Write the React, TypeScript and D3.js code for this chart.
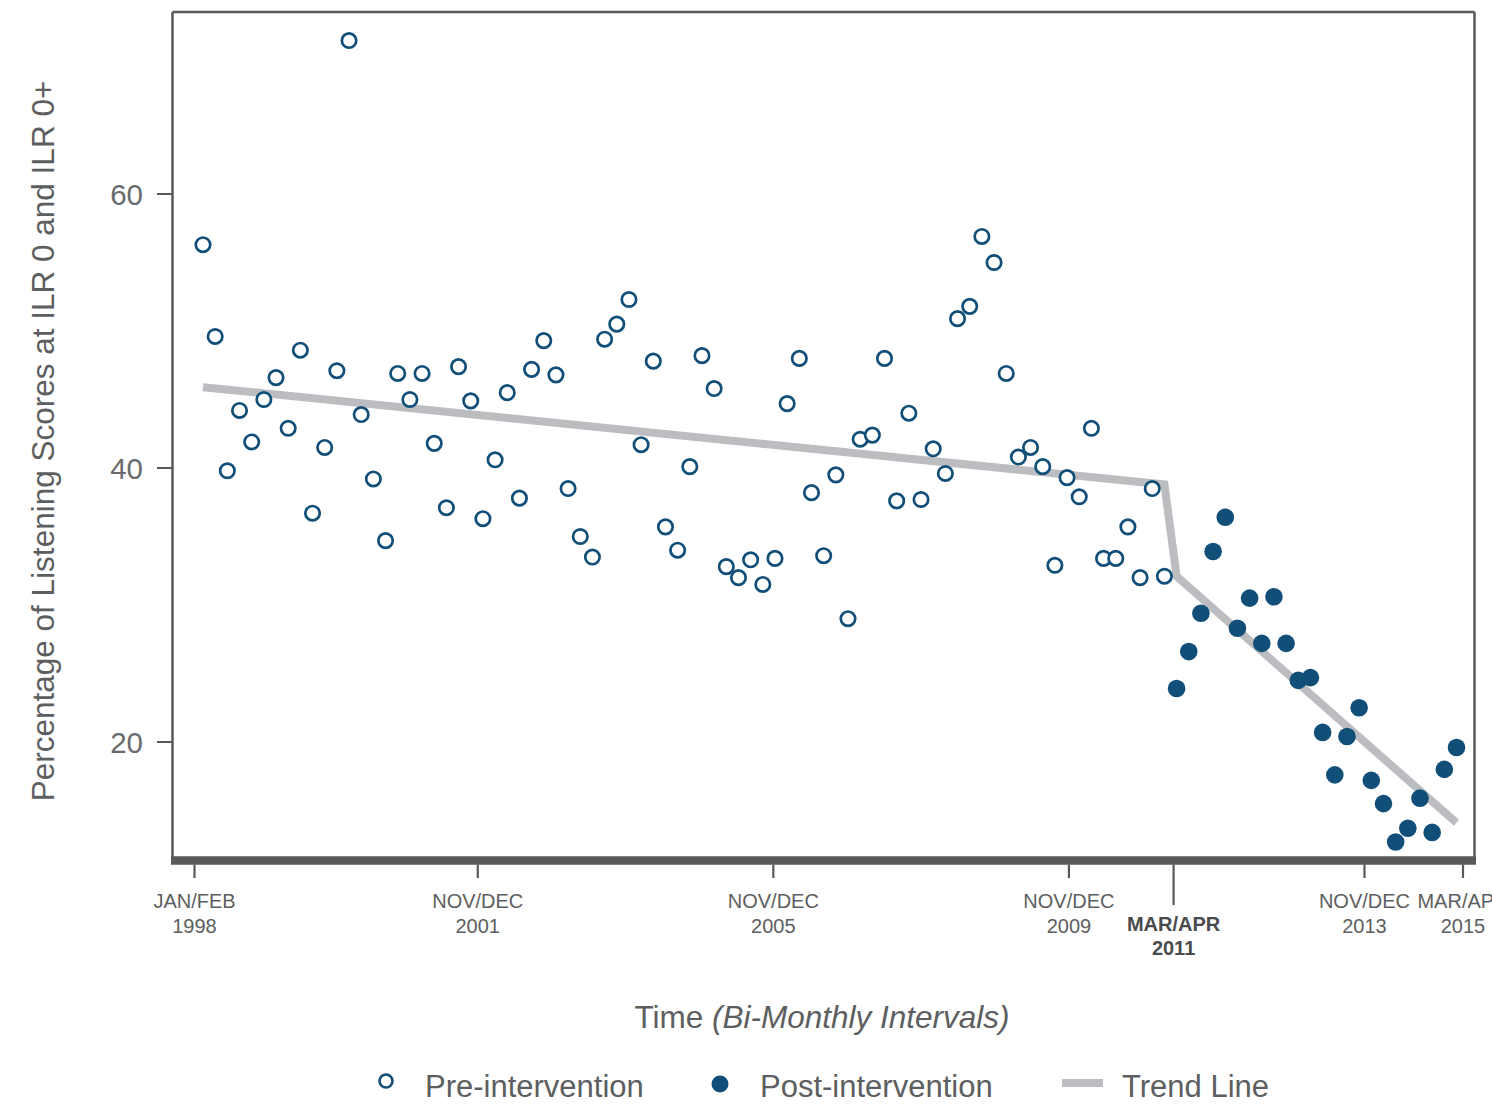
import React from "react";
import * as d3 from "d3";

// Bi-monthly observations, Jan/Feb 1998 onward (percent at ILR 0 / 0+)
const preIntervention: number[] = [
  56.3, 49.6, 39.8, 44.2, 41.9, 45.0, 46.6, 42.9, 48.6, 36.7,
  41.5, 47.1, 71.2, 43.9, 39.2, 34.7, 46.9, 45.0, 46.9, 41.8,
  37.1, 47.4, 44.9, 36.3, 40.6, 45.5, 37.8, 47.2, 49.3, 46.8,
  38.5, 35.0, 33.5, 49.4, 50.5, 52.3, 41.7, 47.8, 35.7, 34.0,
  40.1, 48.2, 45.8, 32.8, 32.0, 33.3, 31.5, 33.4, 44.7, 48.0,
  38.2, 33.6, 39.5, 29.0, 42.1, 42.4, 48.0, 37.6, 44.0, 37.7,
  41.4, 39.6, 50.9, 51.8, 56.9, 55.0, 46.9, 40.8, 41.5, 40.1,
  32.9, 39.3, 37.9, 42.9, 33.4, 33.4, 35.7, 32.0, 38.5, 32.1,
];

const postIntervention: number[] = [
  23.9, 26.6, 29.4, 33.9, 36.4, 28.3, 30.5, 27.2, 30.6, 27.2,
  24.5, 24.7, 20.7, 17.6, 20.4, 22.5, 17.2, 15.5, 12.7, 13.7,
  15.9, 13.4, 18.0, 19.6,
];

// Segmented regression trend: [observation index, value]
const trendLine: [number, number][] = [
  [0, 45.9],
  [79, 38.8],
  [80, 32.1],
  [103, 14.1],
];

// Calendar axis: bi-month index from Jan/Feb 1998
const timeTicks = [
  { idx: 0, line1: "JAN/FEB", line2: "1998", key: false },
  { idx: 23, line1: "NOV/DEC", line2: "2001", key: false },
  { idx: 47, line1: "NOV/DEC", line2: "2005", key: false },
  { idx: 71, line1: "NOV/DEC", line2: "2009", key: false },
  { idx: 79.5, line1: "MAR/APR", line2: "2011", key: true },
  { idx: 95, line1: "NOV/DEC", line2: "2013", key: false },
  { idx: 103, line1: "MAR/APR", line2: "2015", key: false },
];

const yTicks = [20, 40, 60];

const W = 1492;
const H = 1109;
const frame = { left: 172.5, right: 1474.5, top: 12, bottom: 860.5 };
const BLUE = "#114e78";
const TREND = "#bcbdc0";
const AXIS = "#58595b";
const TEXT = "#5d5e60";
const FONT = "'Liberation Sans', Arial, Helvetica, sans-serif";

export default function App() {
  const total = preIntervention.length + postIntervention.length;
  const x = d3.scaleLinear().domain([0, total - 1]).range([203, 1456.5]);
  const xTime = d3.scaleLinear().domain([0, 103]).range([194.5, 1463]);
  const y = d3.scaleLinear().domain([20, 60]).range([742, 194]);

  const trendPath = d3
    .line<[number, number]>()
    .x((d) => x(d[0]))
    .y((d) => y(d[1]))(trendLine);

  const pre = preIntervention.map((v, i) => ({ i, v }));
  const post = postIntervention.map((v, i) => ({ i: i + preIntervention.length, v }));

  return (
    <div style={{ position: "absolute", left: 0, top: 0 }}>
      <svg width={W} height={H} style={{ display: "block", background: "#fff" }} fontFamily={FONT}>
        {/* plot frame */}
        <line x1={frame.left} x2={frame.left} y1={frame.top} y2={frame.bottom} stroke={AXIS} strokeWidth={2.5} />
        <line x1={frame.left} x2={frame.right} y1={frame.top} y2={frame.top} stroke={AXIS} strokeWidth={2.5} />
        <line x1={frame.right} x2={frame.right} y1={frame.top} y2={frame.bottom} stroke={AXIS} strokeWidth={2.5} />
        <line x1={frame.left - 1.5} x2={frame.right + 1.5} y1={frame.bottom} y2={frame.bottom} stroke={AXIS} strokeWidth={8.5} />

        {/* y axis */}
        {yTicks.map((t) => (
          <g key={t}>
            <line x1={157} x2={frame.left} y1={y(t)} y2={y(t)} stroke={AXIS} strokeWidth={2} />
            <text x={143} y={y(t)} dy="0.36em" textAnchor="end" fontSize={29.5} fill="#6a6b6d">
              {t}
            </text>
          </g>
        ))}
        <text
          transform={`translate(54, 441) rotate(-90)`}
          textAnchor="middle"
          fontSize={31.5}
          fill={TEXT}
        >
          Percentage of Listening Scores at ILR 0 and ILR 0+
        </text>

        {/* x axis */}
        {timeTicks.map((t) => {
          const tx = xTime(t.idx);
          const y0 = frame.bottom + 4;
          return (
            <g key={t.line2 + t.line1}>
              <line x1={tx} x2={tx} y1={y0} y2={t.key ? 905 : 878} stroke={AXIS} strokeWidth={2.2} />
              <text
                x={tx}
                y={t.key ? 931 : 908}
                textAnchor="middle"
                fontSize={20}
                fontWeight={t.key ? "bold" : "normal"}
                fill={t.key ? "#4a4b4d" : TEXT}
              >
                {t.line1}
              </text>
              <text
                x={tx}
                y={t.key ? 955 : 933}
                textAnchor="middle"
                fontSize={20}
                fontWeight={t.key ? "bold" : "normal"}
                fill={t.key ? "#4a4b4d" : TEXT}
              >
                {t.line2}
              </text>
            </g>
          );
        })}
        <text x={822} y={1028} textAnchor="middle" fontSize={31.5} fill={TEXT}>
          Time <tspan fontStyle="italic">(Bi-Monthly Intervals)</tspan>
        </text>

        {/* trend line */}
        <path d={trendPath ?? ""} fill="none" stroke={TREND} strokeWidth={8} strokeLinejoin="miter" />

        {/* observations */}
        {pre.map((d) => (
          <circle key={"pre" + d.i} cx={x(d.i)} cy={y(d.v)} r={7.2} fill="#fff" stroke={BLUE} strokeWidth={2.7} />
        ))}
        {post.map((d) => (
          <circle key={"post" + d.i} cx={x(d.i)} cy={y(d.v)} r={8.8} fill={BLUE} />
        ))}

        {/* legend */}
        <circle cx={386} cy={1081} r={6.5} fill="#fff" stroke={BLUE} strokeWidth={2.6} />
        <text x={425} y={1097} fontSize={31} fill={TEXT}>Pre-intervention</text>
        <circle cx={720} cy={1084} r={8.5} fill={BLUE} />
        <text x={760} y={1097} fontSize={31} fill={TEXT}>Post-intervention</text>
        <line x1={1062} x2={1103} y1={1083} y2={1083} stroke={TREND} strokeWidth={8} />
        <text x={1122} y={1097} fontSize={31} fill={TEXT}>Trend Line</text>
      </svg>
    </div>
  );
}
